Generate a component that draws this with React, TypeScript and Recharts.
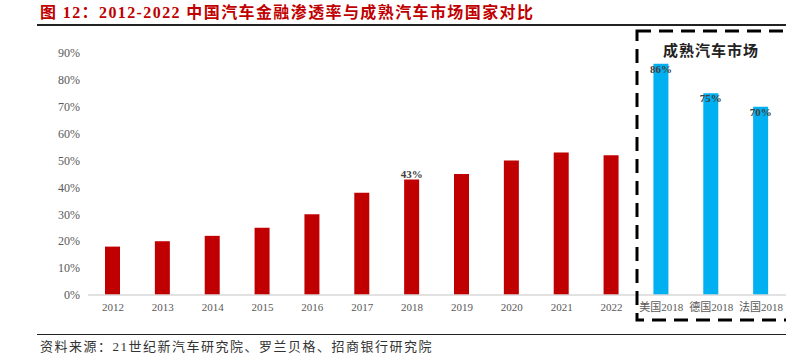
import React from 'react';
import { BarChart, Bar, XAxis, YAxis, Cell, LabelList } from 'recharts';

const categories = ['2012', '2013', '2014', '2015', '2016', '2017', '2018', '2019', '2020', '2021', '2022', '美国2018', '德国2018', '法国2018'];
const values = [18, 20, 22, 25, 30, 38, 43, 45, 50, 53, 52, 86, 75, 70];
const groups = ['china', 'china', 'china', 'china', 'china', 'china', 'china', 'china', 'china', 'china', 'china', 'mature', 'mature', 'mature'];
const shownLabels = ['', '', '', '', '', '', '43%', '', '', '', '', '86%', '75%', '70%'];
const yTicks = [0, 10, 20, 30, 40, 50, 60, 70, 80, 90];

const data = categories.map((name, i) => ({ name, value: values[i], group: groups[i], label: shownLabels[i] }));

const FONT = '"Times New Roman", "Liberation Serif", "Noto Sans CJK SC", serif';
const RED = '#c00000';
const BLUE = '#00b0f0';

const renderLabel = (props: any) => {
  const { x, y, width, value, index } = props;
  if (!value) return null;
  const inside = groups[index] === 'mature';
  return (
    <text
      x={Number(x) + Number(width) / 2}
      y={inside ? Number(y) + 9 : Number(y) - 1}
      textAnchor="middle"
      fontFamily={FONT}
      fontSize={11}
      fontWeight="bold"
      fill="#404040"
    >
      {value}
    </text>
  );
};

export default function App() {
  return (
    <div style={{ position: 'absolute', left: 0, top: 0, width: 786, height: 355, overflow: 'hidden', background: '#fff', fontFamily: FONT }}>
      <div style={{ position: 'absolute', left: 40, top: 4, fontSize: 16, letterSpacing: 1.4, fontWeight: 'bold', color: RED, whiteSpace: 'nowrap', lineHeight: '18px' }}>
        图 12：2012-2022 中国汽车金融渗透率与成熟汽车市场国家对比
      </div>
      <div style={{ position: 'absolute', left: 37, top: 24, width: 749, height: 1.5, background: '#222' }} />
      <BarChart
        width={786}
        height={355}
        data={data}
        margin={{ top: 53, right: 0, bottom: 30, left: 28 }}
        style={{ position: 'absolute', left: 0, top: 0 }}
      >
        <XAxis
          dataKey="name"
          interval={0}
          tickLine={false}
          axisLine={{ stroke: '#d9d9d9', strokeWidth: 1.5 }}
          tick={{ fontFamily: FONT, fontSize: 11, fill: '#595959' }}
          height={30}
        />
        <YAxis
          domain={[0, 90]}
          ticks={yTicks}
          interval={0}
          tickFormatter={(v: number) => `${v}%`}
          tickLine={false}
          axisLine={false}
          tick={{ fontFamily: FONT, fontSize: 12, fill: '#595959' }}
          width={60}
        />
        <Bar dataKey="value" barSize={15} isAnimationActive={false}>
          {data.map((d, i) => (
            <Cell key={i} fill={d.group === 'mature' ? BLUE : RED} />
          ))}
          <LabelList dataKey="label" content={renderLabel} />
        </Bar>
      </BarChart>
      <svg width={786} height={355} style={{ position: 'absolute', left: 0, top: 0, pointerEvents: 'none' }}>
        <rect x={637} y={31} width={200} height={289} fill="none" stroke="#000" strokeWidth={3} strokeDasharray="14 8" />
      </svg>
      <div style={{ position: 'absolute', left: 636, width: 150, top: 42, textAlign: 'center', fontSize: 15, fontWeight: 'bold', color: '#222', letterSpacing: 1, lineHeight: '18px' }}>
        成熟汽车市场
      </div>
      <div style={{ position: 'absolute', left: 37, top: 334, width: 749, height: 1, background: '#222' }} />
      <div style={{ position: 'absolute', left: 40, top: 339, fontSize: 13, letterSpacing: 1.5, color: '#333', whiteSpace: 'nowrap', lineHeight: '15px' }}>
        资料来源：21世纪新汽车研究院、罗兰贝格、招商银行研究院
      </div>
    </div>
  );
}
